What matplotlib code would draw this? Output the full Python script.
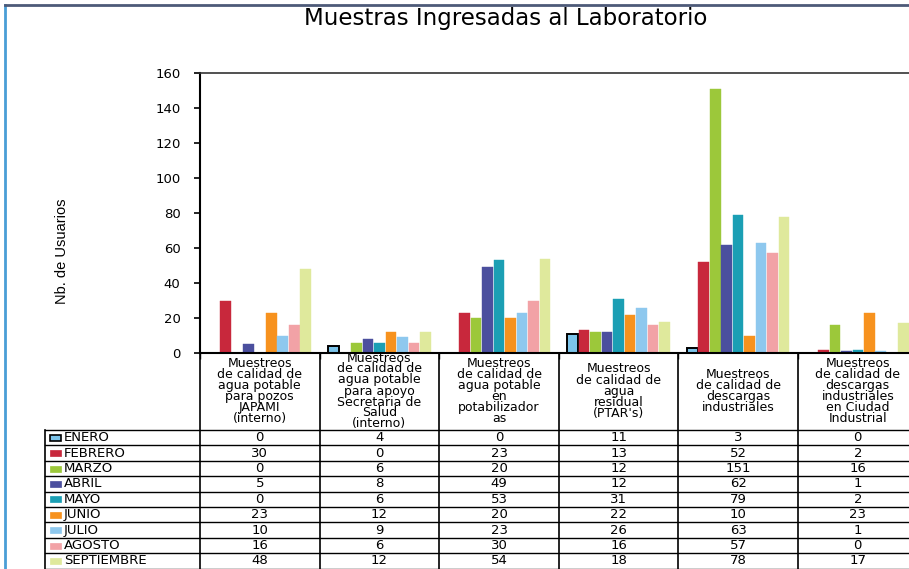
import matplotlib
matplotlib.use("Agg")
import matplotlib.pyplot as plt
import matplotlib.transforms as mtransforms
from matplotlib.lines import Line2D
from matplotlib.patches import Rectangle
import numpy as np

# data
categories = [
    "Muestreos\nde calidad de\nagua potable\npara pozos\nJAPAMI\n(interno)",
    "Muestreos\nde calidad de\nagua potable\npara apoyo\nSecretaria de\nSalud\n(interno)",
    "Muestreos\nde calidad de\nagua potable\nen\npotabilizador\nas",
    "Muestreos\nde calidad de\nagua\nresidual\n(PTAR's)",
    "Muestreos\nde calidad de\ndescargas\nindustriales",
    "Muestreos\nde calidad de\ndescargas\nindustriales\nen Ciudad\nIndustrial",
]
months = ["ENERO", "FEBRERO", "MARZO", "ABRIL", "MAYO", "JUNIO",
          "JULIO", "AGOSTO", "SEPTIEMBRE"]
enero = [0, 4, 0, 11, 3, 0]
febrero = [30, 0, 23, 13, 52, 2]
marzo = [0, 6, 20, 12, 151, 16]
abril = [5, 8, 49, 12, 62, 1]
mayo = [0, 6, 53, 31, 79, 2]
junio = [23, 12, 20, 22, 10, 23]
julio = [10, 9, 23, 26, 63, 1]
agosto = [16, 6, 30, 16, 57, 0]
septiembre = [48, 12, 54, 18, 78, 17]
series = [enero, febrero, marzo, abril, mayo, junio, julio, agosto, septiembre]
colors = ["#7cc4ea", "#c8283c", "#9cc83a", "#4b4f9e", "#1b9fb4",
          "#f7921e", "#8ec8ee", "#f2a2a6", "#dfe99c"]
yticks = [0, 20, 40, 60, 80, 100, 120, 140, 160]

W, H = 909, 569
fig = plt.figure(figsize=(W / 100, H / 100), dpi=100)
fig.patch.set_facecolor("white")

# plot area: 200..918 px wide (right part cut off like the scan), 73..353 px tall
ax = fig.add_axes([200 / W, 1 - 353 / H, 717.6 / W, 280 / H])
x = np.arange(len(categories))
bw = 0.096
for i, (vals, c) in enumerate(zip(series, colors)):
    ec = "black" if i == 0 else c
    lw = 1.4 if i == 0 else 0.3
    ax.bar(x + (i - 4) * bw, vals, bw * 0.92, color=c, edgecolor=ec, linewidth=lw)

ax.set_xlim(-0.5, len(categories) - 0.5)
ax.set_ylim(0, 160)
ax.set_yticks(yticks)
ax.set_yticklabels([str(t) for t in yticks], fontsize=9.5, family="DejaVu Sans")
ax.set_xticks(np.arange(len(categories) + 1) - 0.5)
ax.set_xticklabels([])
ax.tick_params(axis="y", direction="out", length=4, width=1.2, pad=10)
ax.tick_params(axis="x", direction="out", length=4, width=1.0)
ax.spines["left"].set_linewidth(1.5)
ax.spines["bottom"].set_linewidth(1.5)
ax.spines["top"].set_color("#333333")
ax.spines["top"].set_linewidth(1.2)
ax.spines["right"].set_visible(False)

# data table below the plot
tr = mtransforms.blended_transform_factory(ax.transData, ax.transAxes)
def ypx(p):
    return (353 - p) / 280.0
def xpx(p):
    return -0.5 + (p - 200) / 119.6

row0 = 430
rh = 15.4
xr = len(categories) - 0.5
for k in range(len(months) + 1):
    yy = ypx(row0 + k * rh)
    ax.add_line(Line2D([xpx(45), xr], [yy, yy], transform=tr, color="black",
                       linewidth=1.0, clip_on=False))
ax.add_line(Line2D([xpx(45), xpx(45)], [ypx(row0), ypx(row0 + 9 * rh)],
                   transform=tr, color="black", linewidth=1.2, clip_on=False))
for b in np.arange(len(categories) + 1) - 0.5:
    ax.add_line(Line2D([b, b], [0, ypx(row0 + 9 * rh)], transform=tr,
                       color="black", linewidth=1.2, clip_on=False))

for j, cat in enumerate(categories):
    ax.text(j, ypx(391), cat, transform=tr, ha="center", va="center",
            fontsize=9, family="DejaVu Sans", linespacing=0.8, clip_on=False)

for k, (m, vals, c) in enumerate(zip(months, series, colors)):
    yc = ypx(row0 + (k + 0.5) * rh)
    ec = "black" if k == 0 else c
    ax.add_patch(Rectangle((xpx(50), yc - 3 / 280), xpx(61) - xpx(50), 6 / 280,
                           transform=tr, facecolor=c, edgecolor=ec,
                           linewidth=1.2 if k == 0 else 0.5, clip_on=False))
    ax.text(xpx(64), yc, m, transform=tr, ha="left", va="center",
            fontsize=9.5, family="DejaVu Sans", clip_on=False)
    for j, v in enumerate(vals):
        ax.text(j, yc, str(v), transform=tr, ha="center", va="center",
                fontsize=9.5, family="DejaVu Sans", clip_on=False)

# title and axis title
fig.text(506 / W, 1 - 19 / H, "Muestras Ingresadas al Laboratorio",
         ha="center", va="center", fontsize=16.5, family="DejaVu Sans")
fig.text(62 / W, 1 - 251 / H, "Nb. de Usuarios", rotation=90,
         ha="center", va="center", fontsize=10.5,
         family=["Liberation Sans Narrow", "Liberation Sans"])

# chart frame (scan shows only left and top edges)
fig.add_artist(Line2D([5 / W, 5 / W], [0, 1 - 5 / H], transform=fig.transFigure,
                      color="#4a9ed6", linewidth=2))
fig.add_artist(Line2D([5 / W, 1], [1 - 5 / H, 1 - 5 / H], transform=fig.transFigure,
                      color="#4d5a78", linewidth=2))

fig.savefig("out.png", dpi=100)
